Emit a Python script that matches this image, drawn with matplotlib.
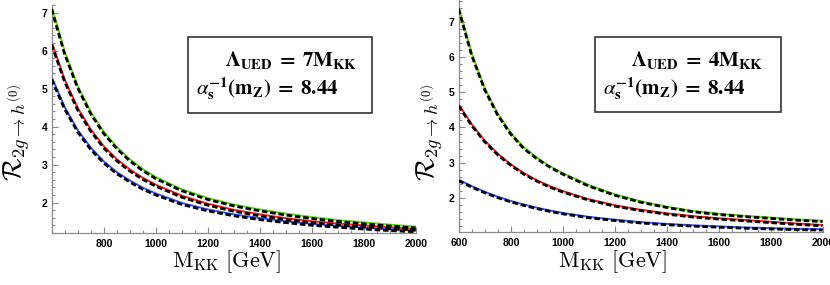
import matplotlib
matplotlib.use("Agg")
import matplotlib.pyplot as plt
from matplotlib.patches import Rectangle
from matplotlib.ticker import MultipleLocator
import matplotlib.transforms as mtransforms

plt.rcParams['mathtext.fontset'] = 'cm'

# ---------------- data ----------------
m_kk = [600, 650, 700, 750, 800, 850, 900, 950, 1000, 1100, 1200, 1300, 1400,
        1500, 1600, 1700, 1800, 1900, 2000]

# Left panel: Lambda_UED = 7 M_KK
left_green = [7.13, 5.95, 5.06, 4.38, 3.86, 3.46, 3.14, 2.88, 2.67, 2.35, 2.12,
              1.95, 1.82, 1.71, 1.62, 1.54, 1.48, 1.42, 1.37]
left_red = [6.2, 5.22, 4.48, 3.92, 3.48, 3.14, 2.87, 2.65, 2.47, 2.18, 1.97,
            1.81, 1.69, 1.59, 1.51, 1.45, 1.40, 1.35, 1.31]
left_blue = [5.28, 4.5, 3.9, 3.44, 3.08, 2.8, 2.58, 2.39, 2.24, 1.99, 1.82,
             1.69, 1.59, 1.51, 1.44, 1.39, 1.34, 1.30, 1.27]

# Right panel: Lambda_UED = 4 M_KK
right_green = [7.39, 6.08, 5.1, 4.38, 3.84, 3.43, 3.14, 2.9, 2.7, 2.36, 2.1,
               1.9, 1.75, 1.63, 1.55, 1.49, 1.44, 1.39, 1.35]
right_red = [4.64, 4.08, 3.62, 3.25, 2.95, 2.7, 2.5, 2.33, 2.19, 1.96, 1.79,
             1.66, 1.56, 1.48, 1.42, 1.37, 1.32, 1.27, 1.23]
right_blue = [2.51, 2.33, 2.17, 2.03, 1.91, 1.81, 1.72, 1.64, 1.57, 1.46, 1.38,
              1.31, 1.26, 1.22, 1.19, 1.16, 1.14, 1.12, 1.11]

left_xticks = [800, 1000, 1200, 1400, 1600, 1800, 2000]
right_xticks = [600, 800, 1000, 1200, 1400, 1600, 1800, 2000]
yticks = [2, 3, 4, 5, 6, 7]

left_lines = [r"$\mathbf{\Lambda_{UED}}\;\mathbf{=}\;\mathbf{7M_{KK}}$",
              r"$\alpha_{\mathbf{s}}^{\mathbf{-1}}\mathbf{(m_Z)}\;\mathbf{=}\;\mathbf{8.44}$"]
right_lines = [r"$\mathbf{\Lambda_{UED}}\;\mathbf{=}\;\mathbf{4M_{KK}}$",
               r"$\alpha_{\mathbf{s}}^{\mathbf{-1}}\mathbf{(m_Z)}\;\mathbf{=}\;\mathbf{8.44}$"]

green_c = '#5ede10'
red_c = '#ff1a1a'
blue_c = '#3358ff'

W, H = 830, 285
fig = plt.figure(figsize=(W / 100, H / 100), dpi=100)


def px(x0, y_top, x1, y_bot):
    return [x0 / W, 1 - y_bot / H, (x1 - x0) / W, (y_bot - y_top) / H]


def style_axes(ax, ylim, xticks):
    ax.set_xlim(600, 2000)
    ax.set_ylim(*ylim)
    for s in ['top', 'right']:
        ax.spines[s].set_visible(False)
    for s in ['left', 'bottom']:
        ax.spines[s].set_color('#8a8a8a')
        ax.spines[s].set_linewidth(0.9)
    ax.set_xticks(xticks)
    ax.set_yticks(yticks)
    ax.xaxis.set_minor_locator(MultipleLocator(50))
    ax.yaxis.set_minor_locator(MultipleLocator(0.2))
    ax.tick_params(which='both', direction='in', color='#8a8a8a', width=0.8)
    ax.tick_params(which='major', length=4.5)
    ax.tick_params(which='minor', length=2.5)
    ax.tick_params(axis='x', pad=4)
    ax.tick_params(axis='y', pad=3)
    for lab in ax.get_xticklabels() + ax.get_yticklabels():
        lab.set_fontfamily('Liberation Sans')
        lab.set_fontweight('bold')
        lab.set_fontsize(7.5)
    ax.patch.set_alpha(0)


def draw_curves(ax, series, dy):
    off = mtransforms.offset_copy(ax.transData, fig=fig, x=-0.3, y=dy, units='points')
    for vals, c in series:
        ax.plot(m_kk, vals, color=c, lw=1.4, solid_capstyle='butt', zorder=2)
    for vals, c in series:
        ax.plot(m_kk, vals, color='black', lw=2.0, dashes=[2.0, 1.0],
                transform=off, zorder=3)


def draw_box(x0, y0, x1, y1, lines, pos):
    fig.patches.append(Rectangle((x0 / W, 1 - y1 / H), (x1 - x0) / W, (y1 - y0) / H,
                                 transform=fig.transFigure, fill=False,
                                 edgecolor='#333333', lw=1.2))
    for txt, (cx, cy) in zip(lines, pos):
        fig.text(cx / W, 1 - cy / H, txt, fontsize=15, ha='center', va='center',
                 math_fontfamily='stix')


# Left panel
ax1 = fig.add_axes(px(52, 5, 416, 233))
draw_curves(ax1, [(left_green, green_c), (left_red, red_c), (left_blue, blue_c)], -1.0)
style_axes(ax1, (1.2, 7.2), left_xticks)

# Right panel
ax2 = fig.add_axes(px(459, 0, 823, 232))
draw_curves(ax2, [(right_green, green_c), (right_red, red_c), (right_blue, blue_c)], -0.6)
style_axes(ax2, (1.03, 7.62), right_xticks)

for ax, xc in [(ax1, 227), (ax2, 613)]:
    fig.text(xc / W, 1 - 262 / H, r"$\mathrm{M}_{\mathrm{KK}}\ [\mathrm{GeV}]$",
             fontsize=16, ha='center', va='center')
for xc, yc in [(17, 133), (430, 133)]:
    fig.text(xc / W, 1 - yc / H, r"$\mathcal{R}_{2g\to h^{(0)}}$", fontsize=19,
             rotation=90, ha='center', va='center')

draw_box(188, 37, 372, 113, left_lines, [(291, 60), (267, 89)])
draw_box(595, 37, 781, 112, right_lines, [(697, 60), (674, 89)])

fig.savefig('out.png', dpi=100)
